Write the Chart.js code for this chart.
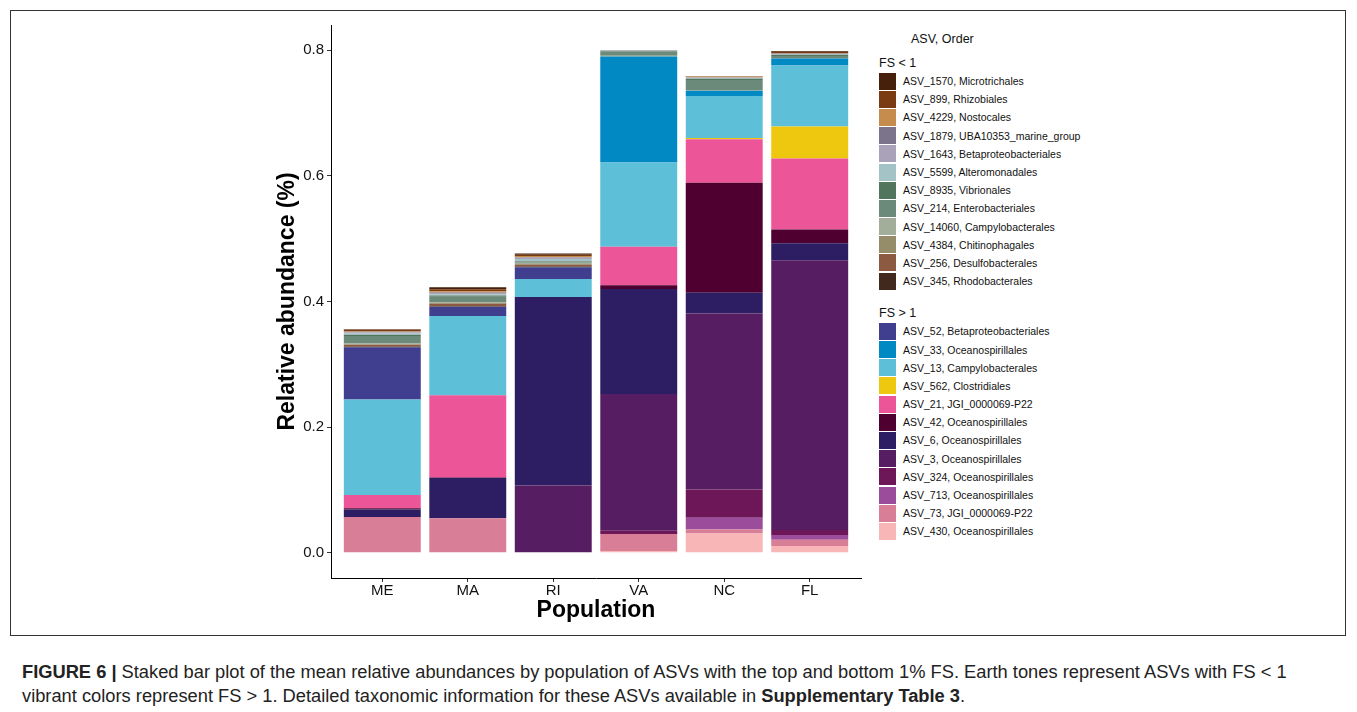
<!DOCTYPE html>
<html>
<head>
<meta charset="utf-8">
<script src="https://cdn.jsdelivr.net/npm/chart.js@4.4.1/dist/chart.umd.min.js"></script>
<style>
  body { margin: 0; background: #fff; font-family: "Liberation Sans", Arial, sans-serif; }
  .frame { position: absolute; left: 10px; top: 10px; width: 1336px; height: 626px; border: 1px solid #333; box-sizing: border-box; }
  .plot { position: absolute; left: 230px; top: 12px; width: 640px; height: 625px; }
  .legend { position: absolute; left: 879px; top: 32px; color: #111; font-size: 10.5px; }
  .legend .title { font-size: 12.5px; margin-left: 32px; height: 22px; }
  .legend .group { font-size: 12.5px; height: 18px; line-height: 18px; }
  .legend .row { display: flex; align-items: center; height: 18.2px; }
  .legend .sw { width: 17px; height: 17px; margin-right: 7px; }
  .legend .gap { height: 14px; }
  .caption { position: absolute; left: 22px; top: 660px; font-size: 18.3px; line-height: 24px; color: #222; white-space: nowrap; }
</style>
</head>
<body>
<div class="frame"></div>
<div class="plot"><canvas id="c"></canvas></div>
<div class="legend" id="legend"></div>
<div class="caption"><b>FIGURE 6 |</b> Staked bar plot of the mean relative abundances by population of ASVs with the top and bottom 1% FS. Earth tones represent ASVs with FS &lt; 1<br>vibrant colors represent FS &gt; 1. Detailed taxonomic information for these ASVs available in <b>Supplementary Table 3</b>.</div>
<script>
const populations = ["ME", "MA", "RI", "VA", "NC", "FL"];
const yTicks = [0, 0.2, 0.4, 0.6, 0.8];

// legend order (top of stack first)
const lowLabels = [
  "ASV_1570, Microtrichales", "ASV_899, Rhizobiales", "ASV_4229, Nostocales",
  "ASV_1879, UBA10353_marine_group", "ASV_1643, Betaproteobacteriales", "ASV_5599, Alteromonadales",
  "ASV_8935, Vibrionales", "ASV_214, Enterobacteriales", "ASV_14060, Campylobacterales",
  "ASV_4384, Chitinophagales", "ASV_256, Desulfobacterales", "ASV_345, Rhodobacterales"
];
const lowColors = ["#46200a", "#7a3b12", "#c58c4d", "#7c748a", "#aaa2b8", "#a4c3c6",
  "#52755e", "#6b8a7a", "#a2ad9a", "#958d6a", "#8c5a40", "#41291d"];
// values per population ME, MA, RI, VA, NC, FL
const lowValues = [
  [0.001, 0.003, 0.002, 0, 0, 0.001],
  [0.002, 0.003, 0.002, 0, 0.001, 0.003],
  [0.001, 0.002, 0.002, 0, 0.001, 0],
  [0.001, 0.001, 0.001, 0, 0, 0],
  [0.002, 0.002, 0.002, 0.001, 0.001, 0.001],
  [0.002, 0.002, 0.003, 0, 0.001, 0.001],
  [0.002, 0.002, 0.001, 0.001, 0.002, 0.002],
  [0.012, 0.009, 0.002, 0.007, 0.016, 0.004],
  [0.001, 0.001, 0.002, 0.001, 0.001, 0],
  [0.001, 0.001, 0.001, 0, 0, 0],
  [0.003, 0.004, 0.003, 0, 0, 0],
  [0.001, 0.001, 0.001, 0, 0, 0]
];

const highLabels = [
  "ASV_52, Betaproteobacteriales", "ASV_33, Oceanospirillales", "ASV_13, Campylobacterales",
  "ASV_562, Clostridiales", "ASV_21, JGI_0000069-P22", "ASV_42, Oceanospirillales",
  "ASV_6, Oceanospirillales", "ASV_3, Oceanospirillales", "ASV_324, Oceanospirillales",
  "ASV_713, Oceanospirillales", "ASV_73, JGI_0000069-P22", "ASV_430, Oceanospirillales"
];
const highColors = ["#3f3e8f", "#0089c2", "#5ebfd9", "#edc80e", "#ec5598", "#4f0030",
  "#2d1d62", "#561d63", "#6e1758", "#9b4c9a", "#d97e97", "#f8b6b6"];
const highValues = [
  [0.083, 0.0145, 0.0185, 0, 0, 0],
  [0, 0, 0, 0.169, 0.0085, 0.011],
  [0.152, 0.126, 0.029, 0.134, 0.067, 0.097],
  [0, 0, 0, 0, 0.002, 0.051],
  [0.021, 0.131, 0, 0.061, 0.069, 0.113],
  [0.002, 0.001, 0, 0.006, 0.175, 0.022],
  [0.012, 0.064, 0.300, 0.167, 0.033, 0.027],
  [0, 0, 0.107, 0.218, 0.280, 0.429],
  [0, 0, 0, 0.005, 0.045, 0.008],
  [0, 0, 0, 0, 0.019, 0.0075],
  [0.057, 0.055, 0, 0.027, 0.006, 0.010],
  [0, 0, 0, 0.003, 0.031, 0.011]
];

// stacking: bottom of bar first (ASV_430 ... ASV_52, ASV_345 ... ASV_1570)
const labels = lowLabels.concat(highLabels).reverse();
const colors = lowColors.concat(highColors).reverse();
const values = lowValues.concat(highValues).reverse();

const datasets = labels.map((lab, k) => ({
  label: lab,
  data: values[k].map((v, i) => ({ x: i + 1, y: v })),
  backgroundColor: colors[k],
  borderWidth: 0,
  categoryPercentage: 0.9,
  barPercentage: 1.0
}));

const txt = "#111";
const font = "'Liberation Sans', Arial, sans-serif";

new Chart(document.getElementById("c"), {
  type: "bar",
  data: { datasets },
  options: {
    responsive: true,
    maintainAspectRatio: false,
    animation: false,
    layout: { padding: { left: 44, top: 13, right: 9, bottom: 13 } },
    plugins: { legend: { display: false }, tooltip: { enabled: false } },
    scales: {
      x: {
        type: "linear",
        stacked: true,
        offset: false,
        min: 0.4,
        max: 6.6,
        afterBuildTicks: (s) => { s.ticks = populations.map((p, i) => ({ value: i + 1 })); },
        afterFit: (s) => { s.height = 46; },
        grid: { offset: false, drawOnChartArea: false, drawTicks: true, tickLength: 4, color: "#333" },
        border: { color: "#000", width: 1 },
        ticks: {
          color: txt, padding: 0, maxRotation: 0,
          font: { family: font, size: 15 },
          callback: (v) => populations[Math.round(v) - 1]
        },
        title: { display: true, text: "Population", color: "#000", padding: 0,
          font: { family: font, size: 23, weight: "bold" } }
      },
      y: {
        stacked: true,
        min: -0.04,
        max: 0.84,
        afterBuildTicks: (s) => { s.ticks = yTicks.map((v) => ({ value: v })); },
        afterFit: (s) => { s.width = 57; },
        grid: { drawOnChartArea: false, drawTicks: true, tickLength: 4, color: "#333" },
        border: { color: "#000", width: 1 },
        ticks: {
          color: txt, padding: 3,
          font: { family: font, size: 15 },
          callback: (v) => v.toFixed(1)
        },
        title: { display: true, text: "Relative abundance (%)", color: "#000", padding: 0,
          font: { family: font, size: 23, weight: "bold" } }
      }
    }
  }
});

// grouped legend
const lg = document.getElementById("legend");
function addGroup(name, labs, cols) {
  const g = document.createElement("div");
  g.className = "group";
  g.textContent = name;
  lg.appendChild(g);
  labs.forEach((l, i) => {
    const r = document.createElement("div");
    r.className = "row";
    r.innerHTML = '<span class="sw" style="background:' + cols[i] + '"></span><span>' + l + "</span>";
    lg.appendChild(r);
  });
}
const t = document.createElement("div");
t.className = "title";
t.textContent = "ASV, Order";
lg.appendChild(t);
addGroup("FS < 1", lowLabels, lowColors);
const gap = document.createElement("div");
gap.className = "gap";
lg.appendChild(gap);
addGroup("FS > 1", highLabels, highColors);
</script>
</body>
</html>
